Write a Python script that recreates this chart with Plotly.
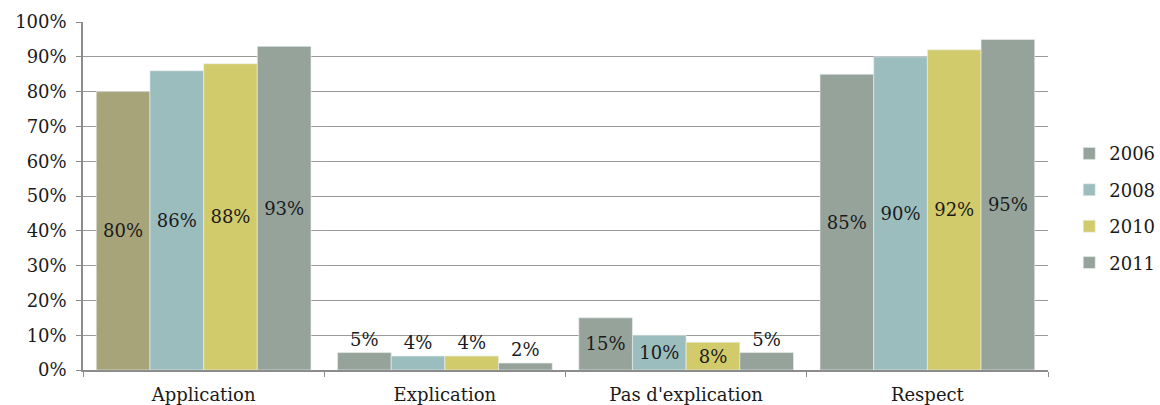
import plotly.graph_objects as go

categories = ["Application", "Explication", "Pas d'explication", "Respect"]
years = ["2006", "2008", "2010", "2011"]
v2006 = [80, 5, 15, 85]
v2008 = [86, 4, 10, 90]
v2010 = [88, 4, 8, 92]
v2011 = [93, 2, 5, 95]
series = [v2006, v2008, v2010, v2011]

colors = ["#95A39B", "#9CBDBE", "#D2CB6C", "#95A39B"]
special_2006_app = "#A8A47A"

FONT = "DejaVu Serif"
FS = 18

fig = go.Figure()
for i, (yr, vals) in enumerate(zip(years, series)):
    bar_colors = [colors[i]] * len(vals)
    if i == 0:
        bar_colors[0] = special_2006_app
    fig.add_trace(go.Bar(
        x=categories, y=vals, name=yr,
        marker=dict(color=bar_colors, line=dict(color="rgba(235,240,240,0.8)", width=0.8)),
        text=[f"{v}%" for v in vals],
        textposition=["inside" if v >= 8 else "outside" for v in vals],
        insidetextanchor="middle",
        textangle=0,
        constraintext="none",
        cliponaxis=False,
        textfont=dict(family=FONT, size=FS, color="#1a1a1a"),
        legendgroup=yr,
        offsetgroup=str(i),
        showlegend=(i != 0),
    ))
    if i == 0:
        # legend entry for 2006 in the series colour
        fig.add_trace(go.Bar(
            x=[categories[0]], y=[None], name=yr,
            marker=dict(color=colors[0]),
            legendgroup=yr, offsetgroup="0", showlegend=True,
            hoverinfo="skip",
        ))

fig.update_layout(
    width=1160, height=405,
    margin=dict(l=83, r=112, t=22, b=35, autoexpand=False),
    paper_bgcolor="white", plot_bgcolor="white",
    barmode="group", bargap=0.11, bargroupgap=0,
    font=dict(family=FONT, size=FS, color="#1a1a1a"),
    showlegend=True,
    legend=dict(x=1.022, y=0.465, yanchor="middle", xanchor="left",
                font=dict(family=FONT, size=FS, color="#1a1a1a"),
                tracegroupgap=10, traceorder="grouped",
                itemwidth=30, bgcolor="rgba(0,0,0,0)"),
    xaxis=dict(showline=True, linecolor="#8c8c8c", linewidth=1.5,
               ticks="outside", ticklen=5, tickcolor="#8c8c8c",
               tickson="boundaries", showgrid=False, ticklabelstandoff=8,
               tickfont=dict(family=FONT, size=FS, color="#1a1a1a")),
    yaxis=dict(range=[0, 100], dtick=10, ticksuffix="%",
               showline=True, linecolor="#8c8c8c", linewidth=1.5,
               ticks="outside", ticklen=5, tickcolor="#8c8c8c",
               showgrid=True, gridcolor="#9a9a9a", gridwidth=1.2,
               zeroline=False, ticklabelstandoff=6,
               tickfont=dict(family=FONT, size=FS, color="#1a1a1a")),
)

fig.write_html("out.html")
